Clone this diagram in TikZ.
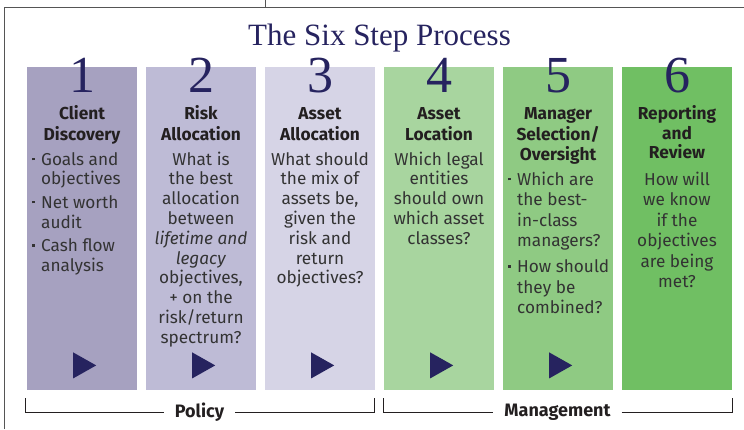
\documentclass[tikz,border=0pt]{standalone}
\usepackage{fontspec}
\setsansfont{Fira Sans}
\newfontfamily\titlefont{Liberation Serif}
\usetikzlibrary{positioning}
\definecolor{navy}{HTML}{26235F}
\definecolor{colA}{HTML}{A6A1C0}
\definecolor{colB}{HTML}{BEBBD6}
\definecolor{colC}{HTML}{D6D4E6}
\definecolor{colD}{HTML}{A8D59F}
\definecolor{colE}{HTML}{8FCA83}
\definecolor{colF}{HTML}{70BF63}
\definecolor{headtext}{HTML}{231F20}
\definecolor{bodytext}{HTML}{333333}
\definecolor{frameline}{HTML}{555555}
\newcommand\bul{\makebox[9pt][l]{\rule[0.28em]{2.4pt}{2.4pt}}}
\newcommand\ind{\hspace*{9pt}}
\tikzset{
      column/.style = { minimum width=110pt, minimum height=323pt, anchor=north west, inner sep=0pt },
     stepnum/.style = { text=navy, anchor=base, font=\titlefont\fontsize{52}{52}\selectfont },
     heading/.style = { anchor=north, align=center, inner sep=0pt, text=headtext,
                        font=\sffamily\bfseries\fontsize{17.3}{19.8}\selectfont },
        body/.style = { anchor=north, align=center, inner sep=0pt, text=bodytext,
                        font=\sffamily\fontsize{17.2}{19.8}\selectfont },
       loose/.style = { body, font=\sffamily\fontsize{17.2}{20.5}\selectfont },
    bodyleft/.style = { anchor=north west, align=left },
    arrowtip/.style = { fill=navy },
       phase/.style = { inner xsep=11pt, inner ysep=0pt, text=headtext,
                        font=\sffamily\bfseries\fontsize{18}{19.8}\selectfont },
     bracket/.style = { draw=headtext, line width=0.9pt },
       frame/.style = { draw=frameline, line width=0.9pt }
}

\begin{document}
\begin{tikzpicture}[x=1pt, y=1pt]
  \useasboundingbox (0,0) rectangle (744,-429);

  % frame
  \draw[frame] (4,-429) |- (744,-7);
  \draw[frame] (265,0) -- (265,-7);

  \node at (379.5,-45) [anchor=base, text=navy, font=\titlefont\fontsize{31}{31}\selectfont] (title) {The Six Step Process};

  % columns
  \node[column, fill=colA] (c1) at (27,-67)  {};
  \node[column, fill=colB] (c2) at (146,-67) {};
  \node[column, fill=colC] (c3) at (265,-67) {};
  \node[column, fill=colD] (c4) at (384,-67) {};
  \node[column, fill=colE] (c5) at (503,-67) {};
  \node[column, fill=colF] (c6) at (622,-67) {};

  % numbers
  \node[stepnum] (n1) at ([yshift=-25pt]c1.north) {1};
  \node[stepnum] (n2) at ([yshift=-25pt]c2.north) {2};
  \node[stepnum] (n3) at ([yshift=-25pt]c3.north) {3};
  \node[stepnum] (n4) at ([yshift=-25pt]c4.north) {4};
  \node[stepnum] (n5) at ([yshift=-25pt]c5.north) {5};
  \node[stepnum] (n6) at ([yshift=-25pt]c6.north) {6};

  % headings
  \node[heading] (h1) at (82,-105.1)  {\strut Client\\Discovery};
  \node[heading] (h2) at (201,-105.1) {\strut Risk\\Allocation};
  \node[heading] (h3) at (320,-105.1) {\strut Asset\\Allocation};
  \node[heading] (h4) at (439,-105.1) {\strut Asset\\Location};
  \node[heading] (h5) at (558,-105.1) {\strut Manager\\Selection/\\Oversight};
  \node[heading] (h6) at (677,-105.1) {\strut Reporting\\and\\Review};

  % texts
  \node[body, bodyleft] (t1) at (32,-151.1)
    {\strut\bul Goals and\\\ind objectives\\[3.5pt]\bul Net worth\\\ind audit\\[3.5pt]\bul Cash flow\\\ind analysis};
  \node[body] (t2) at (201,-151.1)
    {\strut What is\\the best\\allocation\\between\\\emph{lifetime and}\\\emph{legacy}\\objectives,\\+ on the\\risk/return\\spectrum?};
  \node[body] (t3) at (320,-151.1)
    {\strut What should\\the mix of\\assets be,\\given the\\risk and\\return\\objectives?};
  \node[body] (t4) at (439,-151.1)
    {\strut Which legal\\entities\\should own\\which asset\\classes?};
  \node[loose, bodyleft] (t5) at (508,-170.6)
    {\strut\bul Which are\\\ind the best-\\\ind in-class\\\ind managers?\\[5.5pt]\bul How should\\\ind they be\\\ind combined?};
  \node[loose] (t6) at (677,-170.6)
    {\strut How will\\we know\\if the\\objectives\\are being\\met?};

  % arrows
  \fill[arrowtip] ([shift={(-9,12)}]c1.south) -- ++(0,26) -- ++(23,-13) -- cycle;
  \fill[arrowtip] ([shift={(-9,12)}]c2.south) -- ++(0,26) -- ++(23,-13) -- cycle;
  \fill[arrowtip] ([shift={(-9,12)}]c3.south) -- ++(0,26) -- ++(23,-13) -- cycle;
  \fill[arrowtip] ([shift={(-9,12)}]c4.south) -- ++(0,26) -- ++(23,-13) -- cycle;
  \fill[arrowtip] ([shift={(-9,12)}]c5.south) -- ++(0,26) -- ++(23,-13) -- cycle;

  % brackets
  \coordinate (polL) at (25,-398);
  \coordinate (polR) at (374,-398);
  \coordinate (manL) at (383,-398);
  \coordinate (manR) at (732,-398);
  \node[phase] (pol) at (199.5,-412) {Policy};
  \node[phase] (man) at (557.5,-412) {Management};
  \draw[bracket] (polL) |- (pol.west);
  \draw[bracket] (pol.east) -| (polR);
  \draw[bracket] (manL) |- (man.west);
  \draw[bracket] (man.east) -| (manR);
\end{tikzpicture}
\end{document}
